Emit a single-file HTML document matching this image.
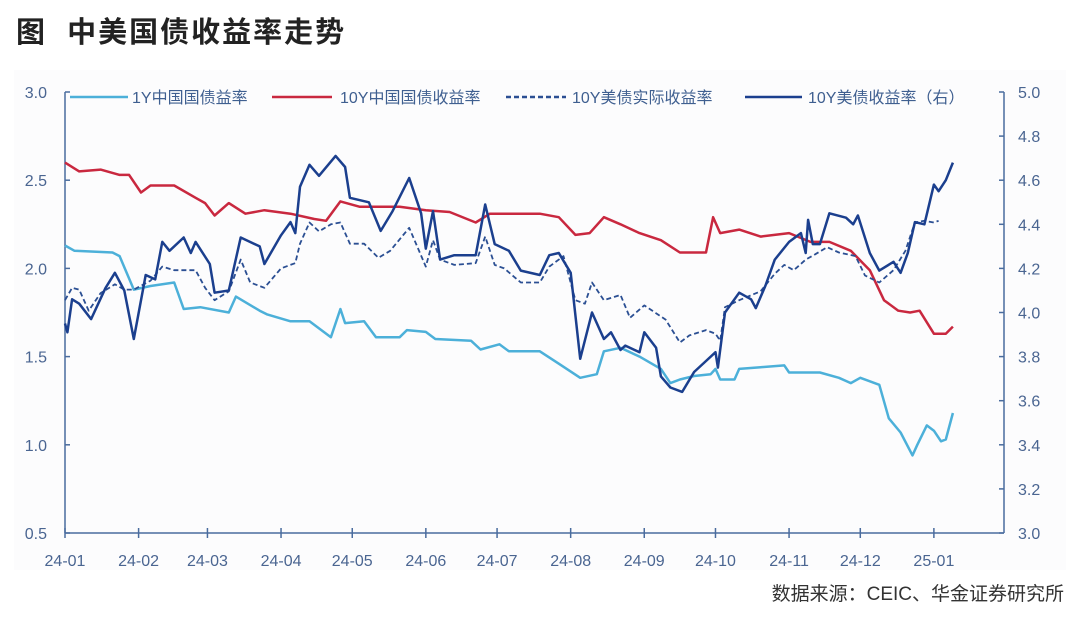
<!DOCTYPE html>
<html><head><meta charset="utf-8"><style>
body{margin:0;background:#fff;width:1080px;height:621px;overflow:hidden;font-family:"Liberation Sans","Noto Sans CJK SC",sans-serif}
#title{position:absolute;left:16px;top:9px;font-size:29px;font-weight:bold;color:#222;font-family:"Liberation Sans","Noto Sans CJK SC",sans-serif;letter-spacing:2px}
#src{position:absolute;right:16px;top:579px;font-size:19px;color:#333}
svg{position:absolute;left:0;top:0}
</style></head><body>
<div id="title">图&nbsp;&nbsp;中美国债收益率走势</div>
<svg id="chart" width="1080" height="621"></svg>
<div id="src">数据来源：CEIC、华金证券研究所</div>
<script>
const cn1yDays=[0,4,20,23,29,36,46,50,57,69,72,82,85,95,103,112,116,118,126,131,141,144,152,156,171,175,183,187,200,208,217,224,227,234,242,251,255,259,265,272,274,276,282,284,293,303,305,318,326,331,335,343,347,352,357,359,363,366,369,371,374];
const cn1yVals=[2.13,2.10,2.09,2.07,1.88,1.90,1.92,1.77,1.78,1.75,1.84,1.76,1.74,1.70,1.70,1.61,1.77,1.69,1.70,1.61,1.61,1.65,1.64,1.60,1.59,1.54,1.57,1.53,1.53,1.46,1.38,1.40,1.53,1.55,1.50,1.43,1.35,1.37,1.39,1.40,1.43,1.37,1.37,1.43,1.44,1.45,1.41,1.41,1.38,1.35,1.38,1.34,1.15,1.07,0.94,1.00,1.11,1.08,1.02,1.03,1.18];
const cn10yDays=[0,6,15,23,27,32,36,46,55,59,63,69,76,84,95,105,110,116,124,141,152,162,173,179,192,200,208,215,221,227,234,242,251,259,267,270,273,276,284,293,305,314,322,331,339,345,351,356,360,366,371,374];
const cn10yVals=[2.60,2.55,2.56,2.53,2.53,2.43,2.47,2.47,2.40,2.37,2.30,2.37,2.31,2.33,2.31,2.28,2.27,2.38,2.35,2.35,2.33,2.32,2.26,2.31,2.31,2.31,2.29,2.19,2.20,2.29,2.25,2.20,2.16,2.09,2.09,2.09,2.29,2.20,2.22,2.18,2.20,2.15,2.15,2.10,1.99,1.82,1.76,1.75,1.76,1.63,1.63,1.67];
const usRealDays=[0,3,6,10,15,21,25,29,36,41,46,55,59,63,69,74,78,84,91,97,99,103,107,112,116,120,126,132,137,145,152,155,158,164,173,177,181,185,192,200,204,210,215,219,222,227,234,238,244,253,259,263,270,274,276,278,284,293,299,303,307,312,316,321,326,333,337,343,349,354,358,362,366,368];
const usRealVals=[1.82,1.89,1.88,1.76,1.86,1.91,1.88,1.88,1.93,2.01,1.99,1.99,1.89,1.82,1.87,2.05,1.92,1.89,2.00,2.03,2.14,2.26,2.21,2.25,2.26,2.14,2.14,2.06,2.10,2.23,2.01,2.16,2.05,2.02,2.03,2.18,2.02,2.00,1.92,1.92,2.01,2.07,1.82,1.80,1.92,1.82,1.85,1.72,1.79,1.71,1.58,1.62,1.65,1.63,1.59,1.78,1.82,1.87,1.97,2.02,1.99,2.05,2.08,2.12,2.09,2.07,1.96,1.92,1.99,2.10,2.26,2.27,2.26,2.27];
const us10yDays=[0,1,3,6,11,17,21,25,29,34,38,41,44,50,53,55,61,63,69,74,82,84,91,95,97,99,103,107,114,118,120,128,133,138,145,150,152,155,158,164,173,177,181,187,192,200,204,208,213,217,222,227,230,234,236,242,244,249,251,255,260,265,270,274,275,278,284,289,291,295,299,305,310,312,313,315,318,322,329,332,334,339,343,349,352,355,358,362,366,368,371,374];
const us10yVals=[3.95,3.91,4.06,4.04,3.97,4.11,4.18,4.10,3.88,4.17,4.15,4.32,4.28,4.34,4.27,4.32,4.22,4.09,4.10,4.34,4.30,4.22,4.35,4.41,4.36,4.57,4.67,4.62,4.71,4.66,4.52,4.50,4.37,4.46,4.61,4.45,4.29,4.46,4.24,4.26,4.26,4.49,4.31,4.28,4.19,4.17,4.26,4.27,4.18,3.79,4.00,3.88,3.91,3.83,3.85,3.82,3.91,3.84,3.71,3.66,3.64,3.73,3.78,3.82,3.75,4.00,4.09,4.06,4.02,4.12,4.24,4.32,4.36,4.27,4.42,4.31,4.31,4.45,4.43,4.40,4.44,4.27,4.19,4.23,4.18,4.27,4.41,4.40,4.58,4.55,4.60,4.68];
const leftTicks=["3.0","2.5","2.0","1.5","1.0","0.5"];
const rightTicks=["5.0","4.8","4.6","4.4","4.2","4.0","3.8","3.6","3.4","3.2","3.0"];
const monthLabels=["24-01","24-02","24-03","24-04","24-05","24-06","24-07","24-08","24-09","24-10","24-11","24-12","25-01"];
const monthDays=[0,31,60,91,121,152,182,213,244,274,305,335,366];

const NS="http://www.w3.org/2000/svg";
const svg=document.getElementById('chart');
const X0=65,X1=1004,YT=92,YB=533;
const xs=d=>X0+d*2.374;
const yl=v=>YT+(3.0-v)/2.5*(YB-YT);
const yr=v=>YT+(5.0-v)/2.0*(YB-YT);
const axisC="#4a6c9e",txtC="#4a6591";
function mk(tag,attrs){const e=document.createElementNS(NS,tag);for(const k in attrs)e.setAttribute(k,attrs[k]);svg.appendChild(e);return e;}
let bg=mk('rect',{x:14,y:70,width:1052,height:500,fill:'#fcfcfd'});


let la=mk('line',{x1:X0,y1:YT,x2:X0,y2:YB,stroke:axisC,'stroke-width':1.5});


let ra=mk('line',{x1:X1,y1:YT,x2:X1,y2:YB,stroke:axisC,'stroke-width':1.5});


let xa=mk('line',{x1:X0,y1:YB,x2:X1,y2:YB,stroke:axisC,'stroke-width':1.5});


leftTicks.forEach(t=>{const y=yl(+t);
 const tk=mk('line',{x1:X0,y1:y,x2:X0+5,y2:y,stroke:axisC,'stroke-width':1.5});
 
 
 const tx=mk('text',{x:47,y:y+6,'text-anchor':'end','font-size':16,fill:txtC});tx.textContent=t;
 
 });
rightTicks.forEach(t=>{const y=yr(+t);
 const tk=mk('line',{x1:X1-5,y1:y,x2:X1,y2:y,stroke:axisC,'stroke-width':1.5});
 
 
 const tx=mk('text',{x:1018,y:y+6,'font-size':16,fill:txtC});tx.textContent=t;
 
 });
monthLabels.forEach((t,i)=>{const x=xs(monthDays[i]);
 const tk=mk('line',{x1:x,y1:YB-5,x2:x,y2:YB+5,stroke:axisC,'stroke-width':1.5});
 
 
 const tx=mk('text',{x:x,y:566,'text-anchor':'middle','font-size':16,fill:txtC});tx.textContent=t;
 
 });
function series(days,vals,yf,color,w,dash,name){
 const d=days.map((dd,i)=>(i?'L':'M')+xs(dd).toFixed(1)+','+yf(vals[i]).toFixed(1)).join('');
 const p=mk('path',{d:d,fill:'none',stroke:color,'stroke-width':w,'stroke-linejoin':'round'});
 if(dash)p.setAttribute('stroke-dasharray',dash);
 
 }
series(cn1yDays,cn1yVals,yl,'#4cb0d9',2.5,null,'line-cn-1y');
series(cn10yDays,cn10yVals,yl,'#c9283f',2.5,null,'line-cn-10y');
series(usRealDays,usRealVals,yl,'#2b4f93',1.8,'5,3','line-us-real-10y');
series(us10yDays,us10yVals,yr,'#1b3f8e',2.5,null,'line-us-10y');
const legend=[[70,128,'#4cb0d9',null,'1Y中国国债益率',132],[272,332,'#c9283f',null,'10Y中国国债收益率',340],[506,566,'#2b4f93','5,3','10Y美债实际收益率',572],[745,802,'#1b3f8e',null,'10Y美债收益率（右）',808]];
legend.forEach(l=>{
 const ln=mk('line',{x1:l[0],y1:97,x2:l[1],y2:97,stroke:l[2],'stroke-width':2.5});
 if(l[3])ln.setAttribute('stroke-dasharray',l[3]);
 
 
 const tx=mk('text',{x:l[5],y:103,'font-size':16,fill:'#3f5f90'});tx.textContent=l[4];
 
 });
</script>
</body></html>
